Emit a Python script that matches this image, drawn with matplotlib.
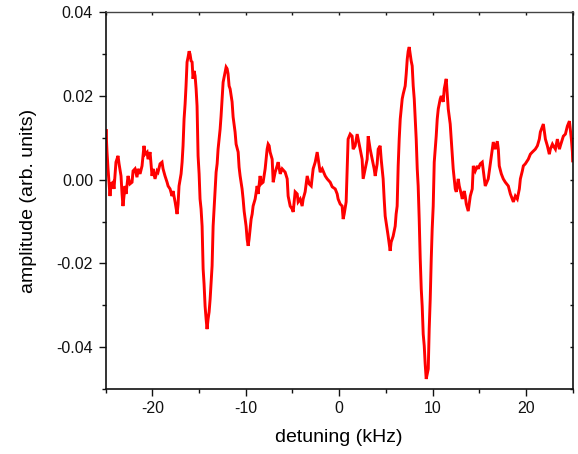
import matplotlib
matplotlib.use("Agg")
import matplotlib.pyplot as plt
from matplotlib.ticker import MultipleLocator, FormatStrFormatter

plt.rcParams['font.family'] = ['Liberation Sans', 'DejaVu Sans']
plt.rcParams['axes.unicode_minus'] = False

# detuning (kHz)
detuning = [
    -25.00, -24.96, -24.85, -24.74, -24.53, -24.42, -24.21, -24.10, -23.89, -23.67,
    -23.56, -23.35, -23.24, -23.14, -22.92, -22.81, -22.60, -22.39, -22.17, -22.06,
    -21.85, -21.64, -21.53, -21.31, -21.10, -20.89, -20.78, -20.56, -20.46, -20.24,
    -20.03, -19.92, -19.71, -19.49, -19.39, -19.17, -18.96, -18.85, -18.64, -18.42,
    -18.31, -18.10, -17.89, -17.78, -17.56, -17.35, -17.24, -17.14, -16.92, -16.81,
    -16.71, -16.60, -16.49, -16.39, -16.28, -16.17, -16.06, -15.96, -15.85, -15.74,
    -15.64, -15.53, -15.42, -15.31, -15.21, -15.10, -14.99, -14.89, -14.78, -14.67,
    -14.56, -14.46, -14.35, -14.24, -14.14, -14.03, -13.92, -13.81, -13.71, -13.60,
    -13.49, -13.39, -13.28, -13.17, -13.06, -12.96, -12.85, -12.74, -12.64, -12.53,
    -12.42, -12.31, -12.21, -12.10, -11.99, -11.89, -11.78, -11.67, -11.46, -11.35,
    -11.14, -11.03, -10.81, -10.71, -10.60, -10.39, -10.28, -10.17, -9.96, -9.85,
    -9.74, -9.64, -9.42, -9.31, -9.21, -8.99, -8.78, -8.67, -8.46, -8.35,
    -8.14, -7.92, -7.71, -7.60, -7.49, -7.39, -7.17, -7.06, -6.85, -6.64,
    -6.53, -6.31, -6.10, -5.78, -5.56, -5.46, -5.24, -5.03, -4.92, -4.71,
    -4.49, -4.39, -4.17, -3.96, -3.85, -3.64, -3.42, -3.21, -2.99, -2.78,
    -2.56, -2.35, -2.24, -2.03, -1.81, -1.49, -1.28, -0.96, -0.74, -0.42,
    -0.21, -0.11, 0.11, 0.32, 0.43, 0.54, 0.75, 0.86, 0.96, 1.18,
    1.39, 1.50, 1.71, 1.93, 2.04, 2.25, 2.46, 2.57, 2.79, 3.00,
    3.11, 3.32, 3.54, 3.75, 3.86, 4.07, 4.18, 4.39, 4.50, 4.71,
    4.82, 4.93, 5.14, 5.25, 5.46, 5.57, 5.78, 6.00, 6.10, 6.21,
    6.32, 6.43, 6.54, 6.75, 6.86, 7.07, 7.18, 7.29, 7.39, 7.50,
    7.61, 7.71, 7.82, 7.93, 8.04, 8.25, 8.36, 8.46, 8.57, 8.68,
    8.79, 8.89, 9.00, 9.11, 9.21, 9.32, 9.43, 9.54, 9.64, 9.75,
    9.86, 9.96, 10.07, 10.18, 10.29, 10.39, 10.50, 10.61, 10.82, 10.93,
    11.14, 11.25, 11.36, 11.46, 11.57, 11.68, 11.89, 12.00, 12.11, 12.21,
    12.43, 12.54, 12.75, 12.86, 13.07, 13.18, 13.39, 13.50, 13.61, 13.82,
    14.04, 14.25, 14.36, 14.57, 14.79, 14.89, 15.11, 15.32, 15.54, 15.64,
    15.86, 15.96, 16.18, 16.29, 16.50, 16.71, 16.93, 17.04, 17.14, 17.36,
    17.57, 17.79, 18.11, 18.33, 18.65, 18.86, 19.07, 19.29, 19.40, 19.61,
    19.72, 19.93, 20.25, 20.47, 20.68, 21.00, 21.22, 21.43, 21.54, 21.75,
    21.86, 22.08, 22.29, 22.50, 22.61, 22.83, 22.93, 23.15, 23.36, 23.58,
    23.68, 23.90, 24.00, 24.22, 24.43, 24.65, 24.86, 24.97, 25.00,
]

# amplitude (arb. units)
amplitude = [
    0.0097, 0.0121, 0.0066, 0.0026, -0.0039, -0.0010, -0.0006, -0.0022, 0.0042, 0.0057,
    0.0038, 0.0009, -0.0034, -0.0063, -0.0015, -0.0034, 0.0009, -0.0010, -0.0006, 0.0021,
    0.0026, 0.0006, 0.0026, 0.0014, 0.0033, 0.0081, 0.0061, 0.0066, 0.0049, 0.0066,
    0.0009, 0.0026, 0.0002, 0.0021, 0.0018, 0.0038, 0.0042, 0.0026, 0.0009, -0.0006,
    -0.0015, -0.0022, -0.0039, -0.0027, -0.0053, -0.0082, -0.0058, -0.0015, 0.0014, 0.0042,
    0.0081, 0.0145, 0.0181, 0.0224, 0.0281, 0.0293, 0.0307, 0.0300, 0.0284, 0.0281,
    0.0241, 0.0260, 0.0248, 0.0217, 0.0176, 0.0057, 0.0014, -0.0046, -0.0070, -0.0111,
    -0.0213, -0.0249, -0.0302, -0.0333, -0.0357, -0.0333, -0.0316, -0.0285, -0.0249, -0.0206,
    -0.0111, -0.0070, -0.0022, 0.0018, 0.0038, 0.0073, 0.0097, 0.0121, 0.0152, 0.0193,
    0.0233, 0.0245, 0.0257, 0.0269, 0.0265, 0.0253, 0.0224, 0.0217, 0.0186, 0.0150,
    0.0114, 0.0085, 0.0066, 0.0030, 0.0009, -0.0022, -0.0046, -0.0075, -0.0111, -0.0142,
    -0.0158, -0.0142, -0.0094, -0.0082, -0.0063, -0.0046, -0.0015, -0.0034, 0.0009, -0.0010,
    -0.0006, 0.0026, 0.0073, 0.0085, 0.0081, 0.0066, 0.0049, -0.0006, 0.0018, 0.0033,
    0.0042, 0.0014, 0.0026, 0.0018, 0.0002, -0.0039, -0.0063, -0.0070, -0.0077, -0.0029,
    -0.0034, -0.0053, -0.0046, -0.0063, -0.0046, -0.0029, 0.0009, -0.0010, -0.0015, 0.0026,
    0.0042, 0.0066, 0.0049, 0.0018, 0.0026, 0.0009, 0.0002, -0.0006, -0.0017, -0.0022,
    -0.0034, -0.0046, -0.0058, -0.0063, -0.0094, -0.0082, -0.0053, 0.0026, 0.0097, 0.0109,
    0.0104, 0.0073, 0.0081, 0.0109, 0.0097, 0.0073, 0.0049, 0.0002, 0.0026, 0.0049,
    0.0104, 0.0073, 0.0049, 0.0026, 0.0009, 0.0038, 0.0073, 0.0081, 0.0049, 0.0002,
    -0.0046, -0.0087, -0.0118, -0.0135, -0.0170, -0.0149, -0.0135, -0.0111, -0.0082, -0.0063,
    0.0033, 0.0097, 0.0145, 0.0193, 0.0205, 0.0224, 0.0253, 0.0288, 0.0307, 0.0317,
    0.0300, 0.0284, 0.0272, 0.0224, 0.0193, 0.0097, 0.0026, -0.0015, -0.0094, -0.0189,
    -0.0261, -0.0302, -0.0369, -0.0397, -0.0440, -0.0476, -0.0464, -0.0452, -0.0357, -0.0285,
    -0.0189, -0.0118, -0.0063, 0.0042, 0.0073, 0.0104, 0.0145, 0.0169, 0.0193, 0.0200,
    0.0186, 0.0217, 0.0229, 0.0241, 0.0205, 0.0169, 0.0133, 0.0097, 0.0061, 0.0026,
    -0.0022, -0.0029, 0.0002, -0.0015, -0.0034, -0.0046, -0.0027, -0.0039, -0.0058, -0.0075,
    -0.0039, -0.0022, 0.0033, 0.0021, 0.0033, 0.0026, 0.0038, 0.0042, 0.0002, -0.0015,
    -0.0003, 0.0002, 0.0038, 0.0057, 0.0090, 0.0073, 0.0092, 0.0073, 0.0033, 0.0014,
    0.0002, -0.0006, -0.0015, -0.0034, -0.0053, -0.0039, -0.0046, -0.0022, 0.0002, 0.0021,
    0.0033, 0.0038, 0.0049, 0.0061, 0.0066, 0.0073, 0.0081, 0.0097, 0.0114, 0.0126,
    0.0133, 0.0097, 0.0081, 0.0061, 0.0073, 0.0085, 0.0081, 0.0073, 0.0097, 0.0073,
    0.0081, 0.0097, 0.0104, 0.0109, 0.0128, 0.0140, 0.0097, 0.0066, 0.0045,
]

fig = plt.figure(figsize=(5.78, 4.54), dpi=100)
ax = fig.add_axes([0.1827, 0.1432, 0.8081, 0.8297])

ax.plot(detuning, amplitude, color='#ff0000', linewidth=2.1,
        solid_joinstyle='miter')

ax.set_xlim(-25, 25)
ax.set_ylim(-0.05, 0.04)

ax.xaxis.set_major_locator(MultipleLocator(10))
ax.xaxis.set_minor_locator(MultipleLocator(5))
ax.yaxis.set_major_locator(MultipleLocator(0.02))
ax.yaxis.set_minor_locator(MultipleLocator(0.01))
ax.yaxis.set_major_formatter(FormatStrFormatter('%.2f'))
ax.xaxis.set_major_formatter(FormatStrFormatter('%d'))

for side in ['left', 'bottom', 'right']:
    ax.spines[side].set_linewidth(1.2)
    ax.spines[side].set_color('#111111')
ax.spines['top'].set_linewidth(1.0)
ax.spines['top'].set_color('#444444')

ax.tick_params(axis='both', which='major', direction='out', length=5, width=1.0,
               labelsize=11.5, colors='#111111', pad=4)
ax.tick_params(axis='both', which='minor', direction='out', length=3, width=1.0,
               colors='#111111')
ax.tick_params(axis='both', which='both', top=True, right=True)
ax.tick_params(axis='both', which='both', labeltop=False, labelright=False)

# small inward ticks on the top and right frame
for tk in ax.xaxis.get_major_ticks() + ax.xaxis.get_minor_ticks():
    tk.tick2line.set_marker(3)
    tk.tick2line.set_markersize(2.5)
    tk.tick2line.set_color('#777777')
for tk in ax.yaxis.get_major_ticks() + ax.yaxis.get_minor_ticks():
    tk.tick2line.set_marker(0)
    tk.tick2line.set_markersize(2.5)
    tk.tick2line.set_color('#777777')

ax.set_xlabel('detuning (kHz)', fontsize=14, labelpad=9)
ax.set_ylabel('amplitude (arb. units)', fontsize=14, labelpad=14)

fig.savefig('out.png', dpi=100)
